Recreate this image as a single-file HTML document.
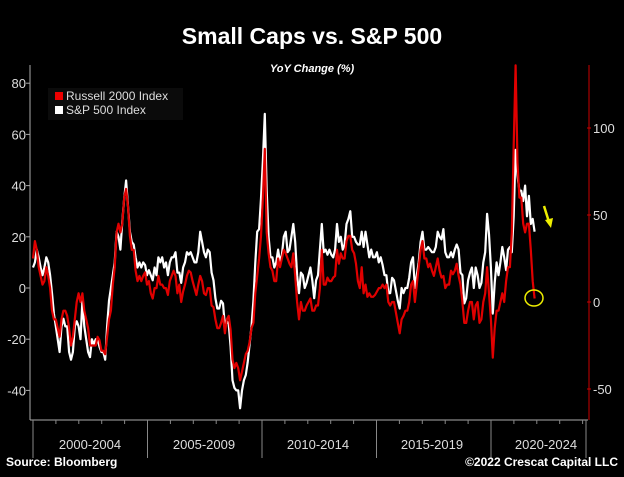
<!DOCTYPE html>
<html><head><meta charset="utf-8"><style>
html,body{margin:0;padding:0;background:#000;}
body{width:624px;height:472px;overflow:hidden;font-family:"Liberation Sans",sans-serif;}
svg text{font-family:"Liberation Sans",sans-serif;}
</style></head><body>
<svg id="chart" width="624" height="472" viewBox="0 0 624 472">
<rect width="624" height="472" fill="#000"/>
<text x="312" y="44" text-anchor="middle" fill="#fff" font-size="23" font-weight="bold">Small Caps vs. S&amp;P 500</text>
<text x="312" y="72" text-anchor="middle" fill="#fff" font-size="11" font-style="italic" font-weight="bold">YoY Change (%)</text>
<g id="axes"></g>
<g id="series"></g>
<g>
<rect x="48" y="88" width="135" height="32" fill="#0b0b0b"/>
<rect x="55" y="92" width="8" height="8" fill="#e00"/>
<text x="66" y="100" fill="#ddd" font-size="12">Russell 2000 Index</text>
<rect x="55" y="106" width="8" height="8" fill="#fff"/>
<text x="66" y="114" fill="#ddd" font-size="12">S&amp;P 500 Index</text>
</g>
<g>
<line x1="544" y1="206" x2="549" y2="222" stroke="#ee0" stroke-width="2.5"/>
<polygon points="545,220 553,218 551,228" fill="#ee0"/>
<ellipse cx="534" cy="298" rx="9" ry="8" fill="none" stroke="#ee0" stroke-width="1.5"/>
</g>
<text x="6" y="466" fill="#fff" font-size="12" font-weight="bold">Source: Bloomberg</text>
<text x="618" y="466" text-anchor="end" fill="#fff" font-size="12" font-weight="bold">©2022 Crescat Capital LLC</text>
</svg>
<script>
const startYear = 2000;
const periods = ["2000-2004","2005-2009","2010-2014","2015-2019","2020-2024"];
const leftTicks = [80,60,40,20,0,-20,-40];
const rightTicks = [100,50,0,-50];
const spx = [
8,10,15,12,8,5,8,12,10,5,-2,-10,
-15,-20,-25,-15,-12,-15,-15,-25,-28,-25,-15,-13,
-15,-20,-5,-15,-20,-25,-27,-20,-22,-20,-20,-23,
-25,-25,-28,-15,-5,0,5,10,22,20,15,26,
35,42,32,22,18,17,12,8,10,8,10,9,
5,7,5,3,8,5,12,10,12,8,10,5,
10,12,12,14,6,6,2,8,10,14,13,14,
12,10,10,14,22,18,14,12,15,14,6,3,
-4,-8,-8,-5,-6,-15,-13,-14,-23,-36,-39,-40,
-40,-47,-40,-36,-34,-29,-22,-15,-5,10,22,23,
35,50,68,38,20,12,12,8,10,15,10,13,
20,22,14,15,20,25,18,5,-2,6,5,0,
2,5,8,3,-4,3,5,15,25,14,15,13,
15,13,12,15,25,18,20,15,17,25,27,30,
20,20,18,17,17,22,16,22,17,12,15,12,
12,14,10,12,9,5,5,-2,-2,4,3,-1,
-5,-8,0,-2,0,0,4,10,12,0,5,10,
18,22,15,15,16,15,14,14,16,22,20,19,
23,14,12,12,14,12,15,17,15,6,5,-6,
-4,3,6,8,0,8,5,0,2,10,14,29,
21,8,-10,2,10,5,10,16,12,7,15,16,
14,28,54,44,38,38,34,40,28,36,25,27,
22];
const rut = [
25,35,30,20,15,10,12,20,15,8,-5,-10,
-10,-15,-20,-10,-5,-5,-8,-15,-25,-20,-10,0,
5,0,5,-5,-10,-15,-25,-25,-25,-25,-20,-22,
-28,-28,-30,-20,-10,-5,10,20,40,45,40,45,
60,65,55,38,30,30,18,12,15,12,15,17,
10,12,5,2,8,8,15,10,10,8,8,4,
12,15,18,15,5,10,0,6,10,15,18,17,
12,8,4,10,15,12,5,4,8,8,-2,-3,
-10,-15,-15,-12,-8,-18,-10,-8,-16,-33,-38,-35,
-38,-45,-40,-35,-30,-28,-23,-15,-12,5,15,25,
38,60,88,40,28,20,18,12,12,25,20,25,
30,28,25,22,20,28,15,0,-10,0,-5,-5,
-2,0,2,-5,-5,-2,-2,8,30,10,10,14,
12,12,14,15,30,22,28,25,25,35,38,38,
30,28,22,12,8,20,5,10,3,5,3,3,
4,6,8,8,10,8,10,0,-2,0,0,-6,
-12,-18,-10,-8,-5,-5,0,10,12,0,10,20,
30,35,25,25,20,22,18,15,20,25,18,14,
15,8,10,10,18,16,18,22,15,10,0,-12,
-12,-5,0,0,-10,-2,0,-12,-10,0,5,20,
5,-10,-32,-15,-5,-5,0,5,0,12,20,20,
40,90,136,80,60,60,45,40,45,45,30,12,
2];

const NS="http://www.w3.org/2000/svg";
const X0=33, PXY=22.8;
function x(i){return X0+(i/12)*PXY;}
function yL(v){return 288-v*2.56;}
function yR(v){return 302-v*1.74;}
function mk(tag,attrs,parent){const e=document.createElementNS(NS,tag);for(const k in attrs)e.setAttribute(k,attrs[k]);parent.appendChild(e);return e;}
const axes=document.getElementById('axes'), ser=document.getElementById('series');

let e=mk('line',{x1:30,y1:65,x2:30,y2:420,stroke:'#aaa','stroke-width':1},axes);


e=mk('line',{x1:30,y1:420,x2:588,y2:420,stroke:'#aaa','stroke-width':1},axes);


e=mk('line',{x1:589,y1:65,x2:589,y2:420,stroke:'#c00','stroke-width':1},axes);


leftTicks.forEach(v=>{
  const t=mk('text',{x:26,y:yL(v)+5,'text-anchor':'end',fill:'#ddd','font-size':13},axes);
  t.textContent=v;
  
  
  const l=mk('line',{x1:26,y1:yL(v),x2:30,y2:yL(v),stroke:'#aaa'},axes);
  
  
});
rightTicks.forEach(v=>{
  const t=mk('text',{x:593,y:yR(v)+5,fill:'#ddd','font-size':13},axes);
  t.textContent=v;
  
  
  const l=mk('line',{x1:587,y1:yR(v),x2:591,y2:yR(v),stroke:'#c00'},axes);
  
  
});
for(let yr=0;yr<=24;yr++){
  const px=X0+yr*PXY*(114.5/114);
  const major=yr%5===0;
  const l=mk('line',{x1:px,y1:420,x2:px,y2:major?458:424,stroke:'#888'},axes);
  
  
}
e=mk('line',{x1:586,y1:420,x2:586,y2:458,stroke:'#888'},axes);


periods.forEach((p,i)=>{
  const t=mk('text',{x:X0+(i*5+2.5)*PXY,y:449,'text-anchor':'middle',fill:'#ddd','font-size':13},axes);
  t.textContent=p;
  
  
});
function line(data,yf,color,name){
  const d=data.map((v,i)=>(i?'L':'M')+x(i).toFixed(1)+','+yf(v).toFixed(1)).join('');
  const p=mk('path',{d:d,fill:'none',stroke:color,'stroke-width':2.2,'stroke-linejoin':'round'},ser);
  
  
}
line(spx,yL,'#fff','spx-line');
line(rut,yR,'#e00000','russell-line');
</script>
</body></html>
